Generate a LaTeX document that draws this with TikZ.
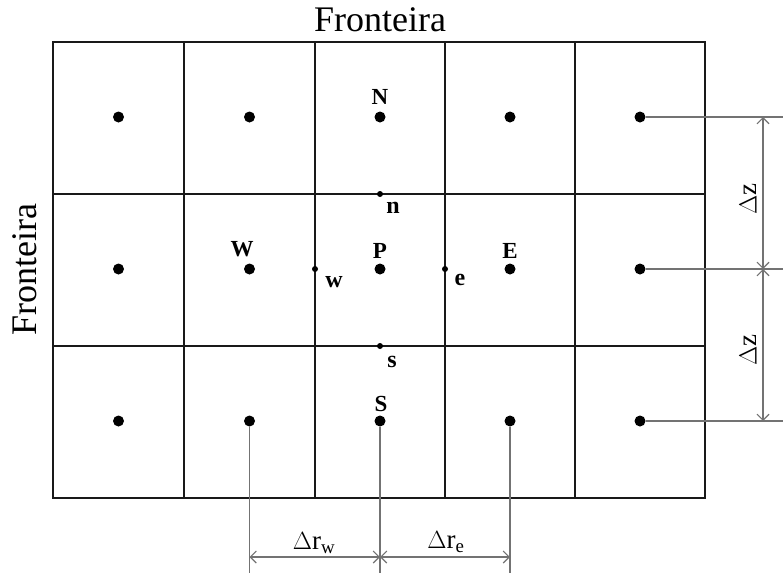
\documentclass[tikz,border=0pt]{standalone}
\usepackage{fontspec}
\setmainfont{Liberation Serif}
\usetikzlibrary{arrows.meta}
\begin{document}
\begin{tikzpicture}[x=1pt,y=-1pt,
  gridline/.style={line width=2.3pt,draw=black!90},
  bigdot/.style={circle,fill=black,inner sep=0pt,minimum size=11pt},
  smalldot/.style={circle,fill=black,inner sep=0pt,minimum size=6pt},
  dimline/.style={draw=black!55,line width=1.1pt},
  dimarrow/.style={dimline,{Straight Barb[length=6pt,width=12pt]}-{Straight Barb[length=6pt,width=12pt]}},
  lbl/.style={font=\fontsize{23}{23}\selectfont\bfseries,inner sep=0pt},
  slbl/.style={font=\fontsize{24}{24}\selectfont\bfseries,inner sep=0pt},
  big/.style={font=\fontsize{36}{36}\selectfont,inner sep=0pt},
  dim/.style={font=\fontsize{27}{27}\selectfont,inner sep=0pt}]
\useasboundingbox (0,0) rectangle (783,579);
% grid
\draw[gridline] (53,42) rectangle (705,498);
\foreach \x in {184,315,445,575} \draw[gridline] (\x,42) -- (\x,498);
\foreach \y in {194,346} \draw[gridline] (53,\y) -- (705,\y);
% nodes (cell centres)
\foreach \x/\i in {118.5/1,249.5/2,380/3,510/4,640/5}
  \foreach \y/\j in {117/1,269/2,421/3}
    \node[bigdot] (c\i\j) at (\x,\y) {};
% face points
\node[smalldot] (fn) at (380,194) {};
\node[smalldot] (fs) at (380,346) {};
\node[smalldot] (fw) at (315,269) {};
\node[smalldot] (fe) at (445,269) {};
% labels
\node[lbl] (lN) at (380,97) {N};
\node[lbl] (lW) at (242,249) {W};
\node[lbl] (lP) at (380,251) {P};
\node[lbl] (lE) at (510,251) {E};
\node[lbl] (lS) at (381,404) {S};
\node[slbl] (ln) at (393,208) {n};
\node[slbl] (lw) at (334,282) {w};
\node[slbl] (le) at (460,280) {e};
\node[slbl] (ls) at (392,362) {s};
% boundary labels
\node[big] (ftop) at (380,20) {Fronteira};
\node[big,rotate=90] (fleft) at (25,270) {Fronteira};
% right dimensions
\coordinate (r1) at (783,117);
\coordinate (r2) at (783,269);
\coordinate (r3) at (783,421);
\draw[dimline] (c51) -- (r1);
\draw[dimline] (c52) -- (r2);
\draw[dimline] (c53) -- (r3);
\coordinate (a1) at (763,117);
\coordinate (a2) at (763,269);
\coordinate (a3) at (763,421);
\draw[dimarrow] (a1) -- (a2);
\draw[dimarrow] (a2) -- (a3);
\node[dim,rotate=90] (dz1) at (748,199) {$\Delta$z};
\node[dim,rotate=90] (dz2) at (748,350) {$\Delta$z};
% bottom dimensions
\coordinate (b2) at (249.5,573);
\coordinate (b3) at (380,573);
\coordinate (b4) at (510,573);
\draw[dimline] (c23) -- (b2);
\draw[dimline] (c33) -- (b3);
\draw[dimline] (c43) -- (b4);
\coordinate (h2) at (249.5,557);
\coordinate (h3) at (380,557);
\coordinate (h4) at (510,557);
\draw[dimarrow] (h2) -- (h3);
\draw[dimarrow] (h3) -- (h4);
\node[dim] (drw) at (314,543) {$\Delta$r\textsubscript{w}};
\node[dim] (dre) at (446,542) {$\Delta$r\textsubscript{e}};
\end{tikzpicture}
\end{document}
